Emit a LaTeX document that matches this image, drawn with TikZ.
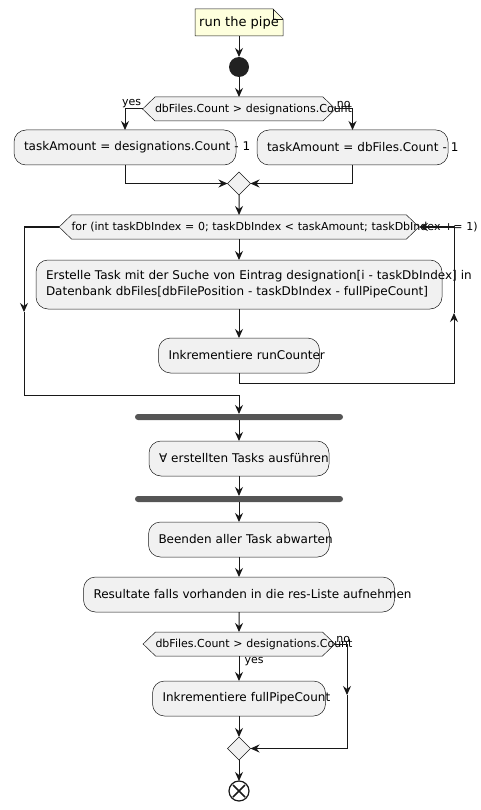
\documentclass[tikz,border=0pt]{standalone}
\usepackage{fontspec}
\setmainfont{DejaVu Sans}
\usetikzlibrary{
  shapes.geometric,
  shapes.symbols,
  positioning,
  calc,
  arrows.meta}
\pgfdeclarelayer{background}
\pgfsetlayers{background,main}
\definecolor{linecolor}{RGB}{24,24,24}
\definecolor{actcolor}{RGB}{241,241,241}
\definecolor{notecolor}{RGB}{254,255,221}
\definecolor{barcolor}{RGB}{85,85,85}
\definecolor{startcolor}{RGB}{34,34,34}
\tikzset{
  connection_arrow/.style={-{Stealth[length=9pt, width=8pt, inset=3pt]},
    draw=linecolor, line width=1pt}
}
\tikzset{
  start/.pic = {
    \node (-m) [circle, anchor=center, fill=startcolor, minimum size=20pt, inner sep=0pt, outer sep=0pt] at (0, 0){};
  }
}
\tikzset{
  stop/.pic = {
    \node (-m) [circle, anchor=center, draw=linecolor, line width=1.2pt, minimum size=20pt, inner sep=0pt, outer sep=0pt] at (0, 0){};
    \draw [linecolor, line width=1.5pt] (-6, -6) -- (6, 6) (-6, 6) -- (6, -6);
  }
}
\tikzset{
  %% notebox : the note on top (outline drawn on the background layer)
  notebox/.style={
    rectangle,
    minimum width=88pt,
    minimum height=27pt,
    inner sep=0pt,
    outer sep=0pt,
    font=\fontsize{13}{15}\selectfont
  },
  notebg/.style={fill=notecolor, draw=linecolor, line width=0.5pt},
  %% activity : an action, #1 is the width of its text
  activity/.style={
    rectangle,
    rounded corners=12pt,
    draw=linecolor,
    line width=0.5pt,
    fill=actcolor,
    minimum height=35pt,
    inner xsep=10pt,
    inner ysep=0pt,
    outer sep=0pt,
    text width=#1,
    align=left,
    font=\fontsize{12}{16}\selectfont
  },
  %% decision : a condition or loop head, #1 is the width of its text
  decision/.style={
    signal,
    signal to=west and east,
    signal pointer angle=88,
    draw=linecolor,
    line width=0.5pt,
    fill=actcolor,
    minimum height=24pt,
    inner xsep=0pt,
    inner ysep=0pt,
    outer sep=0pt,
    text width=#1,
    align=left,
    font=\fontsize{11}{13}\selectfont
  },
  %% merge : the end of a branch
  merge/.style={
    diamond,
    draw=linecolor,
    line width=0.5pt,
    fill=actcolor,
    minimum size=23pt,
    inner sep=0pt,
    outer sep=0pt
  },
  %% syncbar : fork and join
  syncbar/.style={
    rectangle,
    rounded corners=3pt,
    fill=barcolor,
    minimum width=208pt,
    minimum height=6pt,
    inner sep=0pt,
    outer sep=0pt
  },
  %% branch : label of a branch
  branch/.style={
    inner sep=1pt,
    font=\fontsize{11}{13}\selectfont
  }
}

\begin{document}
\begin{tikzpicture}
  [x=1pt,
  y=-1pt]
  \useasboundingbox (0, 0) rectangle (480, 810);

  %% Main workflow
  \node (note) [notebox] at (239, 22.5) {run the pipe};

  \pic (start) [below=31pt of note] {start};

  \node (d1) [below=20pt of start-m, decision=168pt]{%
    \mbox{dbFiles.Count > designations.Count}
  };

  \node (b1) [below=9pt of d1, xshift=-114pt, activity=202pt]{%
    \mbox{taskAmount = designations.Count - 1}
  };

  \node (b2) [below=9pt of d1, xshift=113.5pt, activity=171pt]{%
    \mbox{taskAmount = dbFiles.Count - 1}
  };

  \node (m1) [below=51pt of d1, merge]{};

  \node (loop) [below=20pt of m1, decision=335pt]{%
    \mbox{for (int taskDbIndex = 0; taskDbIndex < taskAmount; taskDbIndex += 1)}
  };

  \node (task) [below=21pt of loop, activity=386pt, minimum height=49pt]{%
    \mbox{Erstelle Task mit der Suche von Eintrag designation[i - taskDbIndex] in}\\
    \mbox{Datenbank dbFiles[dbFilePosition - taskDbIndex - fullPipeCount]}
  };

  \node (runcount) [below=29pt of task, activity=141pt]{%
    \mbox{Inkrementiere runCounter}
  };

  \node (fork) [below=41pt of runcount, syncbar]{};

  \node (run) [below=21pt of fork, activity=160pt]{%
    \mbox{∀ erstellten Tasks ausführen}
  };

  \node (join) [below=20pt of run, syncbar]{};

  \node (wait) [below=20pt of join, activity=161pt]{%
    \mbox{Beenden aller Task abwarten}
  };

  \node (results) [below=20pt of wait, activity=291pt]{%
    \mbox{Resultate falls vorhanden in die res-Liste aufnehmen}
  };

  \node (d2) [below=20pt of results, decision=167pt]{%
    \mbox{dbFiles.Count > designations.Count}
  };

  \node (fullcount) [below=25pt of d2, activity=153pt]{%
    \mbox{Inkrementiere fullPipeCount}
  };

  \node (m2) [below=21pt of fullcount, merge]{};

  \pic (stop) [below=31pt of m2]{stop};

  %% Note outline
  \begin{pgfonlayer}{background}
    \filldraw [notebg] (note.south west) -- (note.north west)
      -- ([xshift=-10pt]note.north east) -- ([yshift=-10pt]note.north east)
      -- (note.south east) -- cycle;
    \draw [notebg, fill=none] ([xshift=-10pt]note.north east)
      -- ([xshift=-10pt, yshift=-10pt]note.north east) -- ([yshift=-10pt]note.north east);
  \end{pgfonlayer}

  %% Loop corners
  \coordinate (loopleft) at (24, 312);
  \coordinate (loopexit) at (24, 395);
  \coordinate (loopright) at (454, 313);
  \coordinate (skipright) at (347, 695);

  %% Connections
  \draw [connection_arrow] (note) -- (start-m);
  \draw [connection_arrow] (start-m) -- (d1);
  \draw [connection_arrow] (d1.west) node [branch, anchor=south east]{yes} -| (b1.north);
  \draw [connection_arrow] (d1.east) node [branch, anchor=south west]{no} -| (b2.north);
  \draw [connection_arrow] (b1.south) |- (m1.west);
  \draw [connection_arrow] (b2.south) |- (m1.east);
  \draw [connection_arrow] (m1) -- (loop);
  \draw [connection_arrow] (loop) -- (task);
  \draw [connection_arrow] (task) -- (runcount);
  \draw [connection_arrow] (runcount.south) -- ++(0, 10) -| (loopright);
  \draw [connection_arrow] (loopright) |- (loop.east);
  \draw [connection_arrow] (loop.west) -| (loopleft);
  \draw [connection_arrow] (loopleft) -- (loopexit) -| (fork.north);
  \draw [connection_arrow] (fork) -- (run);
  \draw [connection_arrow] (run) -- (join);
  \draw [connection_arrow] (join) -- (wait);
  \draw [connection_arrow] (wait) -- (results);
  \draw [connection_arrow] (results) -- (d2);
  \draw [connection_arrow] (d2.south) node [branch, anchor=north west, xshift=4pt]{yes} -- (fullcount);
  \draw [connection_arrow] (d2.east) node [branch, anchor=south west]{no} -| (skipright);
  \draw [connection_arrow] (skipright) |- (m2.east);
  \draw [connection_arrow] (fullcount) -- (m2);
  \draw [connection_arrow] (m2) -- (stop-m);

\end{tikzpicture}
\end{document}
